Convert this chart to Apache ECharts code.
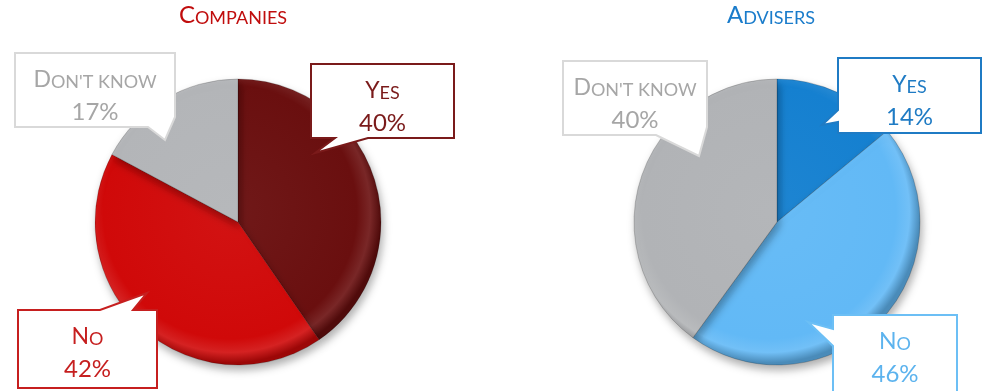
<!DOCTYPE html>
<html>
<head>
<meta charset="utf-8">
<script src="https://cdn.jsdelivr.net/npm/echarts@6/dist/echarts.min.js"></script>
<style>
  html, body { margin: 0; padding: 0; background: #ffffff; }
  #chart { width: 988px; height: 391px; }
</style>
</head>
<body>
<div id="chart"></div>
<script>
// Survey answers, in percent
const categories = ['Yes', 'No', "Don't know"];
const companiesValues = [40, 42, 17];
const advisersValues = [14, 46, 40];
const panelTitles = ['Companies', 'Advisers'];

const FONT = 'Lato, "Open Sans", sans-serif';

// Panel look: pie placement, slice colours, callout boxes and their pointers
const panels = [
  {
    title: panelTitles[0], titleColor: '#c00d0d', titleX: 233,
    values: companiesValues,
    center: [238, 222], radius: 143,
    sliceColors: ['#6a0f0f', '#d00909', '#b3b5b8'],
    textColors: ['#7a1a1a', '#c61f1f', '#a6a6a6'],
    borderColors: ['#7a1a1a', '#c61f1f', '#d9d9d9'],
    callouts: [
      { box: [311, 64, 454, 138], tailEdge: 'bottom', tail: [[368, 138], [315, 153], [335, 138]] },
      { box: [18, 310, 157, 388], tailEdge: 'top', tail: [[100, 310], [147, 293], [133, 310]] },
      { box: [15, 53, 175, 127], tailEdge: 'corner-br', tail: [[175, 117], [165, 140], [148, 127]] }
    ]
  },
  {
    title: panelTitles[1], titleColor: '#1a7ccb', titleX: 771,
    values: advisersValues,
    center: [777, 222], radius: 143,
    sliceColors: ['#1580d0', '#62b9f6', '#b1b3b6'],
    textColors: ['#1f7bc4', '#5cb3ee', '#a6a6a6'],
    borderColors: ['#1f7bc4', '#6cbff5', '#d9d9d9'],
    callouts: [
      { box: [838, 58, 981, 133], tailEdge: 'left', tail: [[838, 122], [822, 125], [838, 110]] },
      { box: [833, 315, 957, 398], tailEdge: 'left', tail: [[833, 346], [808, 322], [833, 329]] },
      { box: [563, 61, 707, 135], tailEdge: 'corner-br', tail: [[707, 127], [699, 156], [656, 135]] }
    ]
  }
];

function shade(hex, amt) {
  const n = parseInt(hex.slice(1), 16);
  let r = (n >> 16) & 255, g = (n >> 8) & 255, b = n & 255;
  const f = c => Math.max(0, Math.min(255, Math.round(amt >= 0 ? c + (255 - c) * amt : c * (1 + amt))));
  return 'rgb(' + f(r) + ',' + f(g) + ',' + f(b) + ')';
}

// Small-caps rendering: the first capital stays full size, the rest is set smaller
function smallCaps(text, big, small) {
  let out = '';
  let run = '';
  let runBig = null;
  for (const ch of text) {
    const isBig = ch !== ch.toLowerCase() && ch === ch.toUpperCase();
    if (runBig !== null && isBig !== runBig) {
      out += '{' + (runBig ? big : small) + '|' + run + '}';
      run = '';
    }
    runBig = isBig;
    run += ch.toUpperCase();
  }
  if (run) out += '{' + (runBig ? big : small) + '|' + run + '}';
  return out;
}

// Outline of a callout box with its pointer spliced into one edge
function calloutPoints(c) {
  const [x0, y0, x1, y1] = c.box;
  const t = c.tail;
  switch (c.tailEdge) {
    case 'bottom': return [[x0, y0], [x1, y0], [x1, y1], t[0], t[1], t[2], [x0, y1]];
    case 'top': return [[x0, y0], t[0], t[1], t[2], [x1, y0], [x1, y1], [x0, y1]];
    case 'left': return [[x0, y0], [x1, y0], [x1, y1], [x0, y1], t[0], t[1], t[2]];
    case 'corner-br': return [[x0, y0], [x1, y0], t[0], t[1], t[2], [x0, y1]];
  }
}

const series = [];
const graphic = [];

panels.forEach(p => {
  const [cx, cy] = p.center;
  series.push({
    type: 'pie',
    center: p.center,
    radius: p.radius,
    startAngle: 90,
    clockwise: true,
    silent: true,
    animation: false,
    label: { show: false },
    labelLine: { show: false },
    data: categories.map((name, i) => ({
      name: name,
      value: p.values[i],
      itemStyle: {
        color: {
          type: 'radial', x: cx - 8, y: cy - 10, r: p.radius + 8, global: true,
          colorStops: [
            { offset: 0, color: shade(p.sliceColors[i], 0.04) },
            { offset: 0.84, color: p.sliceColors[i] },
            { offset: 0.93, color: shade(p.sliceColors[i], 0.10) },
            { offset: 1, color: shade(p.sliceColors[i], -0.25) }
          ]
        },
        borderColor: 'rgba(0,0,0,0.18)',
        borderWidth: 1,
        shadowBlur: 9,
        shadowOffsetX: 2,
        shadowOffsetY: 5,
        shadowColor: 'rgba(0,0,0,0.32)'
      }
    }))
  });

  // panel title
  graphic.push({
    type: 'text',
    z: 20,
    style: {
      text: smallCaps(p.title, 'c', 's'),
      x: p.titleX, y: 27,
      align: 'center', verticalAlign: 'bottom',
      rich: {
        c: { fontSize: 24, fontFamily: FONT, fill: p.titleColor, lineHeight: 28, verticalAlign: 'bottom' },
        s: { fontSize: 18, fontFamily: FONT, fill: p.titleColor, lineHeight: 28, verticalAlign: 'bottom' }
      }
    }
  });

  // callouts with category and value
  categories.forEach((name, i) => {
    const c = p.callouts[i];
    graphic.push({
      type: 'polygon',
      z: 10,
      shape: { points: calloutPoints(c) },
      style: { fill: '#ffffff', stroke: p.borderColors[i], lineWidth: 2, lineJoin: 'miter' }
    });
    const col = p.textColors[i];
    graphic.push({
      type: 'text',
      z: 11,
      style: {
        text: smallCaps(name, 'c', 's') + '\n{n|' + p.values[i] + '%}',
        x: (c.box[0] + c.box[2]) / 2,
        y: c.box[1] + 38,
        align: 'center', verticalAlign: 'middle',
        rich: {
          c: { fontSize: 23, fontFamily: FONT, fill: col, lineHeight: 33, verticalAlign: 'bottom' },
          s: { fontSize: 18, fontFamily: FONT, fill: col, lineHeight: 33, verticalAlign: 'bottom' },
          n: { fontSize: 24, fontFamily: FONT, fill: col, lineHeight: 33, verticalAlign: 'bottom' }
        }
      }
    });
  });
});

const chart = echarts.init(document.getElementById('chart'), null, { renderer: 'canvas' });
chart.setOption({
  backgroundColor: '#ffffff',
  animation: false,
  series: series,
  graphic: graphic
});
</script>
</body>
</html>
